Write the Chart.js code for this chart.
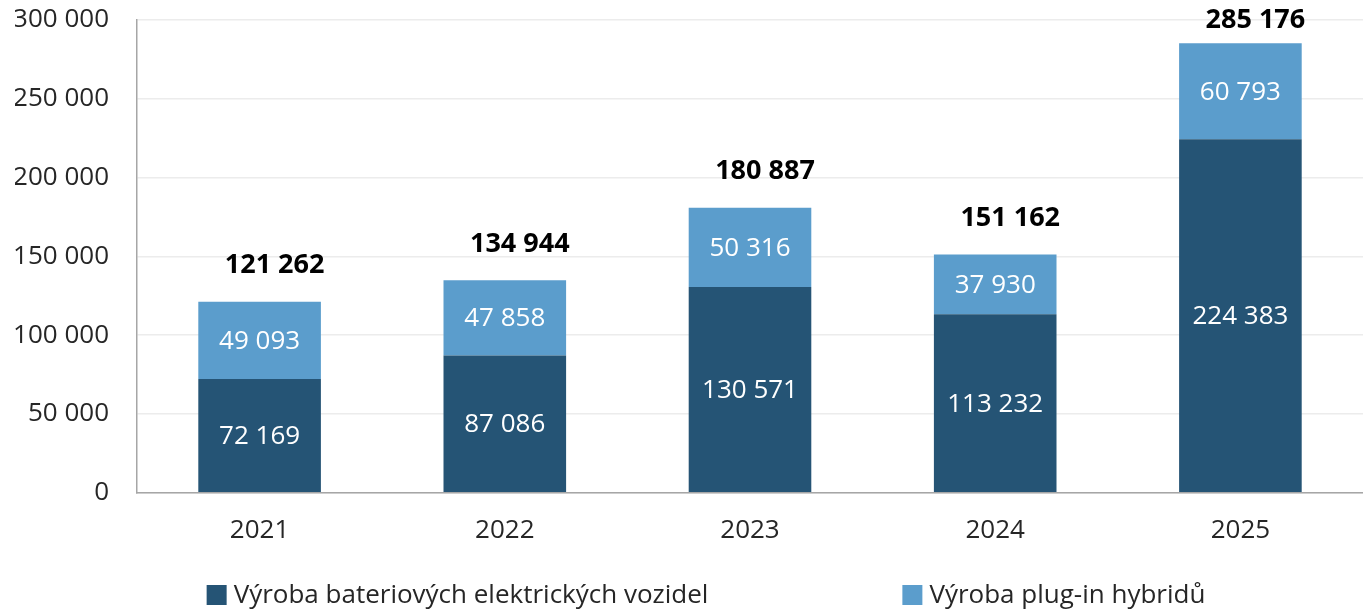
<!DOCTYPE html>
<html><head><meta charset="utf-8">
<script src="https://cdn.jsdelivr.net/npm/chart.js@4/dist/chart.umd.min.js"></script>
<style>html,body{margin:0;padding:0;background:#fff;}#wrap{width:1363px;height:610px;position:relative;}</style>
</head><body><div id="wrap"><canvas id="c" width="1363" height="610"></canvas></div>
<script>
const categories = ['2021', '2022', '2023', '2024', '2025'];
const bevValues = [72169, 87086, 130571, 113232, 224383];
const phevValues = [49093, 47858, 50316, 37930, 60793];
const totals = [121262, 134944, 180887, 151162, 285176];
const seriesNames = ['Výroba bateriových elektrických vozidel', 'Výroba plug-in hybridů'];
const seriesColors = ['#255475', '#5b9dcc'];

const FONT = '"Open Sans", "Noto Sans", sans-serif';
const fmt = v => String(v).replace(/\B(?=(\d{3})+(?!\d))/g, ' ');

const labelPlugin = {
  id: 'barLabels',
  afterDatasetsDraw(chart) {
    const ctx = chart.ctx;
    ctx.save();
    ctx.textAlign = 'center';
    ctx.textBaseline = 'middle';
    ctx.font = '26px ' + FONT;
    ctx.fillStyle = '#ffffff';
    chart.data.datasets.forEach((ds, di) => {
      const meta = chart.getDatasetMeta(di);
      meta.data.forEach((el, i) => {
        const top = Math.min(el.y, el.base), bot = Math.max(el.y, el.base);
        ctx.fillText(fmt(ds.data[i]), el.x, (top + bot) / 2 + 1);
      });
    });
    ctx.font = 'bold 27px ' + FONT;
    ctx.fillStyle = '#000000';
    const meta = chart.getDatasetMeta(1);
    meta.data.forEach((el, i) => {
      const y = Math.max(el.y - 36, chart.chartArea.top);
      ctx.fillText(fmt(totals[i]), el.x + 15, y);
    });
    ctx.restore();
  }
};

const legendPlugin = {
  id: 'customLegend',
  afterDraw(chart) {
    const ctx = chart.ctx;
    ctx.save();
    ctx.font = '26px ' + FONT;
    ctx.textBaseline = 'middle';
    ctx.textAlign = 'left';
    const y = 595, box = 20, gap = 194, textGap = 7;
    const ds = chart.data.datasets;
    const widths = ds.map(d => box + textGap + ctx.measureText(d.label).width);
    const total = widths.reduce((a, b) => a + b, 0) + gap * (widths.length - 1);
    let x = 706 - total / 2;
    ds.forEach((d, i) => {
      ctx.fillStyle = d.backgroundColor;
      ctx.fillRect(x, y - box / 2, box, box);
      ctx.fillStyle = '#262626';
      ctx.fillText(d.label, x + box + textGap, y + 1);
      x += widths[i] + gap;
    });
    ctx.restore();
  }
};

new Chart(document.getElementById('c'), {
  type: 'bar',
  data: {
    labels: categories,
    datasets: [
      { label: seriesNames[0], data: bevValues, backgroundColor: seriesColors[0], categoryPercentage: 1, barPercentage: 0.5 },
      { label: seriesNames[1], data: phevValues, backgroundColor: seriesColors[1], categoryPercentage: 1, barPercentage: 0.5 }
    ]
  },
  options: {
    responsive: false,
    devicePixelRatio: 1,
    animation: false,
    layout: { padding: { left: 15, top: 20, right: 0, bottom: 42 } },
    plugins: { legend: { display: false }, tooltip: { enabled: false } },
    scales: {
      x: {
        stacked: true,
        grid: { display: false, drawTicks: false },
        border: { display: true, color: '#a6a6a6', width: 1.5 },
        ticks: { color: '#262626', font: { family: FONT, size: 26 }, padding: 22 }
      },
      y: {
        stacked: true,
        min: 0, max: 300000,
        grid: { color: '#ececec', lineWidth: 1.5, drawTicks: false },
        border: { display: true, color: '#a6a6a6', width: 1.5 },
        ticks: { stepSize: 50000, color: '#262626', font: { family: FONT, size: 26 }, padding: 28, callback: v => fmt(v) },
        afterFit(scale) { scale.width = 122; scale.paddingTop = 0; scale.paddingBottom = 0; }
      }
    }
  },
  plugins: [labelPlugin, legendPlugin]
});
</script></body></html>
